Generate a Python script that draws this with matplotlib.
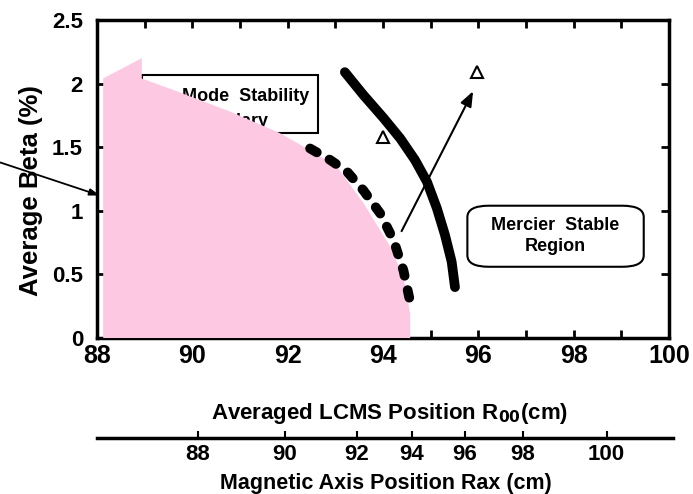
import matplotlib
matplotlib.use("Agg")
import matplotlib.pyplot as plt
from matplotlib.patches import Polygon, Rectangle, FancyBboxPatch
from matplotlib.ticker import MultipleLocator, FixedLocator, FixedFormatter

# ---- data ----
pink_x = [88.13, 88.13, 88.94, 88.94, 89.60, 90.79, 91.84, 92.40, 93.03, 93.59, 94.15, 94.43, 94.57, 94.57]
pink_y = [0.00, 2.04, 2.20, 2.04, 1.95, 1.78, 1.61, 1.49, 1.35, 1.06, 0.72, 0.48, 0.19, 0.00]

dash_x = [92.47, 92.89, 93.24, 93.59, 93.94, 94.22, 94.43, 94.60]
dash_y = [1.49, 1.40, 1.31, 1.16, 0.98, 0.77, 0.53, 0.23]

solid_x = [93.20, 93.59, 94.01, 94.36, 94.67, 94.92, 95.13, 95.30, 95.44, 95.51]
solid_y = [2.09, 1.91, 1.73, 1.57, 1.40, 1.23, 1.02, 0.81, 0.60, 0.40]

tri_x = [94.01, 95.97]
tri_y = [1.58, 2.09]

arrow_start = (94.39, 0.84)
arrow_end = (95.89, 1.94)
left_arrow_start = (85.97, 1.38)
left_arrow_end = (88.06, 1.12)

xticks_main = [88, 90, 92, 94, 96, 98, 100]
xticklabels_main = ["88", "90", "92", "94", "96", "98", "100"]
yticks_main = [0, 0.5, 1, 1.5, 2, 2.5]
yticklabels_main = ["0", "0.5", "1", "1.5", "2", "2.5"]

rax_labels = ["88", "90", "92", "94", "96", "98", "100"]
rax_at_r00 = [90.12, 91.94, 93.45, 94.60, 95.71, 96.93, 98.69]

W, H = 693, 494
fig = plt.figure(figsize=(W / 100, H / 100), dpi=100)
plt.rcParams['font.family'] = ['Liberation Sans', 'DejaVu Sans']

L, R, B, T = 97, 669, 338, 20
ax = fig.add_axes([L / W, 1 - B / H, (R - L) / W, (B - T) / H])
ax.set_xlim(88, 100)
ax.set_ylim(0, 2.5)

for s in ax.spines.values():
    s.set_linewidth(2.5)

ax.xaxis.set_major_locator(FixedLocator(xticks_main))
ax.xaxis.set_major_formatter(FixedFormatter(xticklabels_main))
ax.xaxis.set_minor_locator(MultipleLocator(1))
ax.yaxis.set_major_locator(FixedLocator(yticks_main))
ax.yaxis.set_major_formatter(FixedFormatter(yticklabels_main))
ax.tick_params(axis='both', which='both', direction='in', top=True, right=True,
               width=2, length=6)
ax.tick_params(axis='x', which='major', labelsize=18, pad=4)
ax.tick_params(axis='y', which='major', labelsize=16, pad=10)
for lab in ax.get_xticklabels() + ax.get_yticklabels():
    lab.set_fontweight('bold')

# Mode stability box (partly hidden by the pink region)
ax.add_patch(Rectangle((88.94, 1.61), 3.69, 0.46, fill=False, lw=1.5,
                       edgecolor='black', zorder=2))
ax.text(89.78, 1.90, "Mode  Stability", fontsize=13, fontweight='bold',
        ha='left', va='center', zorder=2)
ax.text(89.85, 1.70, "Boundary", fontsize=13, fontweight='bold',
        ha='left', va='center', zorder=2)

# Pink region
ax.add_patch(Polygon(list(zip(pink_x, pink_y)), closed=True,
                     facecolor='#fcc8e2', edgecolor='none', zorder=3))

# Dashed boundary
ax.plot(dash_x, dash_y, color='black', lw=7, linestyle=(0, (0.8, 1.5)),
        dash_capstyle='round', zorder=4)

# Solid boundary
ax.plot(solid_x, solid_y, color='black', lw=7, solid_capstyle='round',
        solid_joinstyle='round', zorder=4)

# Triangles
ax.plot(tri_x, tri_y, linestyle='none', marker='^', markersize=8,
        markerfacecolor='white', markeredgecolor='black', markeredgewidth=1.5, zorder=5)

# Arrow
ax.annotate("", xy=arrow_end, xytext=arrow_start,
            arrowprops=dict(arrowstyle='-|>,head_length=0.9,head_width=0.35',
                            color='black', lw=1.5, shrinkA=0, shrinkB=0), zorder=5)

# Left pointer line
ax.annotate("", xy=left_arrow_end, xytext=left_arrow_start,
            arrowprops=dict(arrowstyle='-|>,head_length=0.6,head_width=0.2',
                            color='black', lw=1.3, shrinkA=0, shrinkB=0),
            annotation_clip=False, zorder=5)

# Mercier stable region box
ax.add_patch(FancyBboxPatch((95.77, 0.56), 3.7, 0.48,
                            boxstyle="round,pad=0,rounding_size=0.45",
                            mutation_aspect=0.2,
                            fill=False, lw=1.5, edgecolor='black', zorder=5))
ax.text(97.62, 0.80, "Mercier  Stable\nRegion", fontsize=13, fontweight='bold',
        ha='center', va='center', linespacing=1.3, zorder=6)

# Axis labels
fig.text(390 / W, 1 - 413 / H, r"Averaged LCMS Position R$_{\mathbf{00}}$(cm)",
         fontsize=16, fontweight='bold', ha='center', va='center')
fig.text(31 / W, 1 - 191 / H, "Average Beta (%)", fontsize=18.5, fontweight='bold',
         ha='center', va='center', rotation=90)

# Secondary (magnetic axis) scale
L2, R2 = 97, 673
y2 = 438
ax2 = fig.add_axes([L2 / W, 1 - y2 / H, (R2 - L2) / W, 0.001])
ax2.set_xlim(88, 88 + (R2 - L2) / ((R - L) / 12.0))
ax2.set_ylim(0, 1)
ax2.patch.set_alpha(0)
for k in ['top', 'left', 'right']:
    ax2.spines[k].set_visible(False)
ax2.spines['bottom'].set_linewidth(2.5)
ax2.set_yticks([])
ax2.xaxis.set_major_locator(FixedLocator(rax_at_r00))
ax2.xaxis.set_major_formatter(FixedFormatter(rax_labels))
ax2.tick_params(axis='x', direction='in', length=5, width=1.5, labelsize=16, pad=4)
for lab in ax2.get_xticklabels():
    lab.set_fontweight('bold')
fig.text(386 / W, 1 - 483 / H, "Magnetic Axis Position Rax (cm)", fontsize=15.5,
         fontweight='bold', ha='center', va='center')

fig.savefig("out.png", dpi=100)
